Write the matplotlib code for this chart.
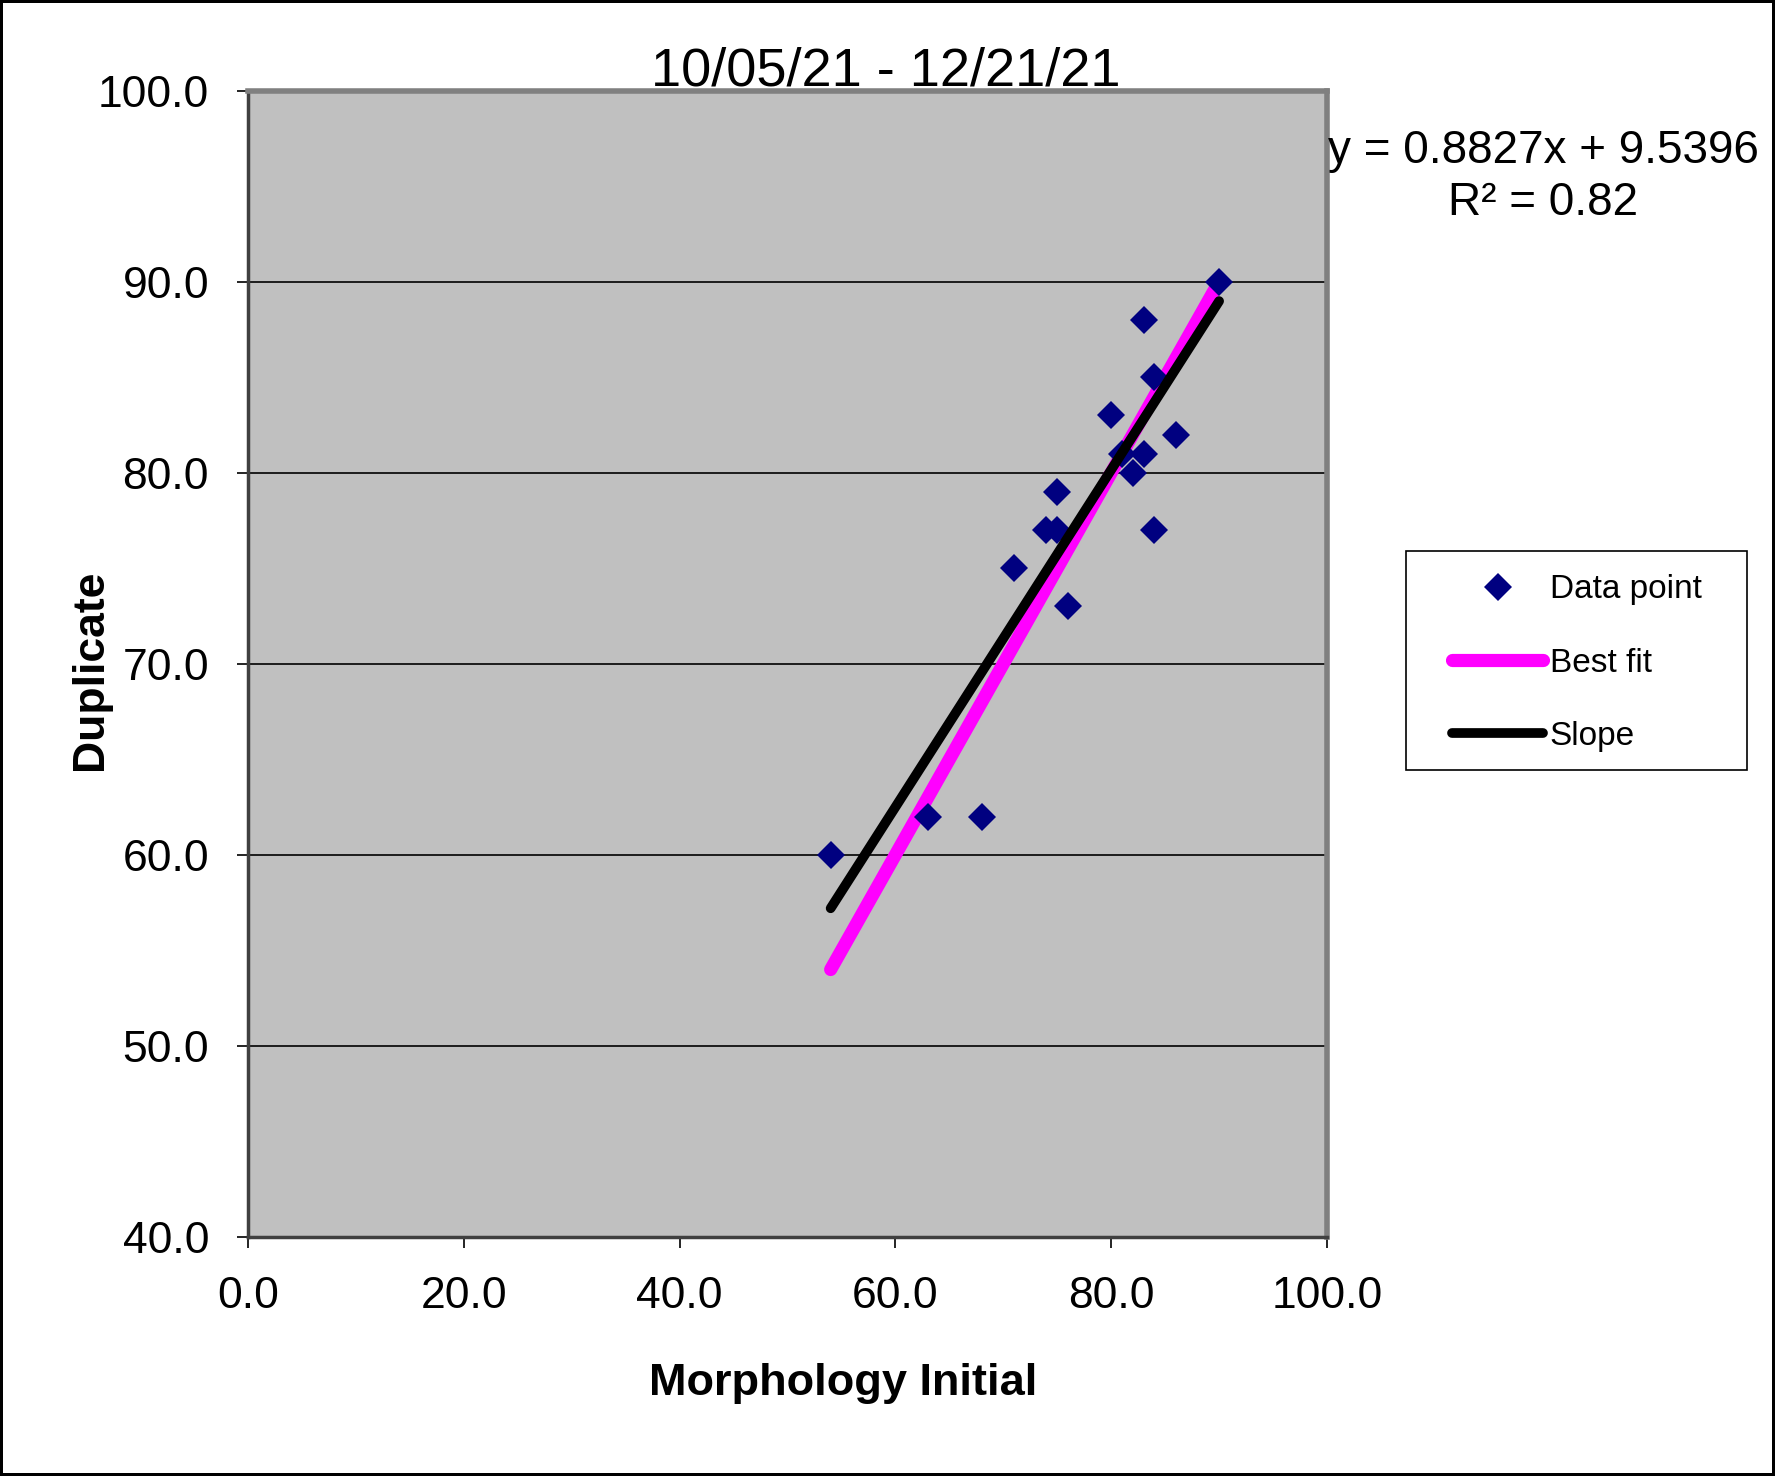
import matplotlib
matplotlib.use("Agg")
import matplotlib.pyplot as plt
import numpy as np
from matplotlib.lines import Line2D
from matplotlib.patches import Rectangle

plt.rcParams['font.family'] = ['Liberation Sans', 'DejaVu Sans']

# ---- data ----
morphology_initial = [54, 63, 68, 71, 74, 75, 75, 76, 80, 81, 82, 83, 83, 84, 84, 86, 90]
duplicate = [60, 62, 62, 75, 77, 77, 79, 73, 83, 81, 80, 81, 88, 85, 77, 82, 90]

fit_x = [54, 90]                 # extent of both lines
best_fit_y = [54, 90]            # identity line y = x
slope = 0.8827
intercept = 9.5396
r_squared = 0.82

title = "10/05/21 - 12/21/21"
x_label = "Morphology Initial"
y_label = "Duplicate"
x_ticks = [0, 20, 40, 60, 80, 100]
y_ticks = [40, 50, 60, 70, 80, 90, 100]

# ---- figure ----
W, H = 1775, 1476
fig = plt.figure(figsize=(W / 100, H / 100), dpi=100)
fig.patch.set_facecolor('white')
fig.patch.set_edgecolor('black')
fig.patch.set_linewidth(3)

ax = fig.add_axes([248 / W, 1 - 1237 / H, (1327 - 248) / W, (1237 - 90.6) / H])
ax.set_facecolor('#C0C0C0')

ax.plot(morphology_initial, duplicate, linestyle='none', marker='D', markersize=14,
        color='#000080', markeredgewidth=0, zorder=4, label='Data point')
ax.plot(fit_x, best_fit_y, color='#FF00FF', linewidth=9.5, solid_capstyle='round',
        zorder=3, label='Best fit')
slope_y = [slope * v + intercept for v in fit_x]
ax.plot(fit_x, slope_y, color='black', linewidth=7, solid_capstyle='round',
        zorder=5, label='Slope')

ax.set_xlim(0, 100)
ax.set_ylim(40, 100)
ax.set_xticks(x_ticks)
ax.set_yticks(y_ticks)
ax.set_xticklabels([f"{v:.1f}" for v in x_ticks])
ax.set_yticklabels([f"{v:.1f}" for v in y_ticks])
ax.tick_params(axis='both', direction='out', length=8, width=1.2, labelsize=32,
               pad=20, colors='black')
ax.yaxis.grid(True, color='black', linewidth=1.2)
ax.set_axisbelow(True)

for s in ['top', 'right']:
    ax.spines[s].set_color('#808080')
    ax.spines[s].set_linewidth(4)
for s in ['left', 'bottom']:
    ax.spines[s].set_color('#404040')
    ax.spines[s].set_linewidth(2.5)

fig.text(886 / W, 1 - 71.5 / H, title, fontsize=39, ha='center', va='center')
fig.text(843 / W, 1 - 1383.5 / H, x_label, fontsize=32.5, fontweight='bold',
         ha='center', va='center')
fig.text(90 / W, 1 - 670 / H, y_label, fontsize=32, fontweight='bold',
         ha='center', va='center', rotation=90)

fig.text(1543 / W, 1 - 177 / H,
         f"y = {slope:.4f}x + {intercept:.4f}\nR\u00b2 = {r_squared:.2f}",
         fontsize=33, ha='center', va='center', ma='center', linespacing=1.25)

# legend frame (box) and legend entries
fig.patches.append(Rectangle((1406 / W, 1 - 770 / H), (1747 - 1406) / W, (770 - 551) / H,
                             transform=fig.transFigure, facecolor='white',
                             edgecolor='black', linewidth=1.2, zorder=1))
fs_leg = 24
em = fs_leg * 100 / 72
handles, labels = ax.get_legend_handles_labels()
leg = fig.legend(handles, labels, loc='upper left',
                 bbox_to_anchor=(1452 / W, 1 - 574.5 / H), borderaxespad=0,
                 fontsize=fs_leg, frameon=False, borderpad=0,
                 labelspacing=1.27, handlelength=91 / em, handletextpad=0.2,
                 numpoints=1)
leg.set_zorder(2)

fig.savefig("out.png", dpi=100)
